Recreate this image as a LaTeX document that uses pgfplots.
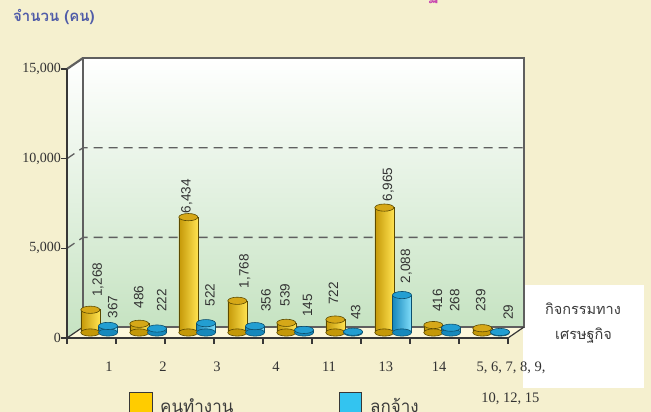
\documentclass[border=0pt]{standalone}
\usepackage{fontspec}
\setmainfont{Liberation Serif}
\newfontfamily\numfont{Liberation Sans}
\newfontfamily\thai[Script=Thai]{Loma}
\usepackage{pgfplots}
\usepackage{pgfplotstable}
\pgfplotsset{compat=1.18}
\definecolor{bg}{RGB}{245,240,207}
\definecolor{floorc}{RGB}{252,247,219}
\definecolor{wallg}{RGB}{198,227,194}
\definecolor{framec}{RGB}{95,95,95}
\definecolor{axisc}{RGB}{55,55,55}
\definecolor{ylwL}{RGB}{196,152,8}
\definecolor{ylwM}{RGB}{252,206,4}
\definecolor{ylwR}{RGB}{255,226,80}
\definecolor{ylwT}{RGB}{214,168,24}
\definecolor{ylwE}{RGB}{92,74,0}
\definecolor{bluL}{RGB}{22,136,188}
\definecolor{bluM}{RGB}{52,194,238}
\definecolor{bluR}{RGB}{130,222,250}
\definecolor{bluT}{RGB}{34,158,210}
\definecolor{bluE}{RGB}{12,80,110}
\definecolor{labc}{RGB}{50,50,50}
\definecolor{titc}{RGB}{80,92,168}
\definecolor{legY}{RGB}{255,204,0}
\definecolor{legB}{RGB}{51,196,240}
\definecolor{boxt}{RGB}{58,58,58}
\definecolor{mag}{RGB}{200,70,175}

\pgfplotstableread{
x v z
0.476 1268 0
1.476 486 0
2.476 6434 0
3.476 1768 0
4.476 539 0
5.476 722 0
6.476 6965 0
7.476 416 0
8.476 239 0
}\yellowdata
\pgfplotstableread{
x v z
0.837 367 0
1.837 222 0
2.837 522 0
3.837 356 0
4.837 145 0
5.837 43 0
6.837 2088 0
7.837 268 0
8.837 29 0
}\bluedata
\pgfplotstableread{
x y v
0.633 1996 1268
1.463 1349 486
2.443 6647 6434
3.627 2465 1768
4.449 1439 539
5.435 1533 722
6.557 7294 6965
7.561 1160 416
8.445 1160 239
}\ylabels
\pgfplotstableread{
x y v
0.935 792 367
1.933 1160 222
2.918 1439 522
4.061 1160 356
4.908 881 145
5.894 697 43
6.922 2744 2088
7.912 1160 268
9.006 697 29
}\blabels

\begin{document}
\begin{tikzpicture}
\useasboundingbox (0pt,0pt) rectangle (651pt,412pt);
\clip (0pt,0pt) rectangle (651pt,412pt);
\fill[bg] (0pt,0pt) rectangle (651pt,412pt);
\fill[white] (523pt,24pt) rectangle (644pt,127pt);
\node[anchor=base, inner sep=0pt, text=mag, font=\thai\bfseries\fontsize{20}{20}\selectfont] at (434pt,413pt) {ฐ};
\begin{axis}[
  at={(67pt,74pt)}, anchor=south west,
  scale only axis, width=441pt, height=269pt,
  xmin=0, xmax=9, ymin=-306, ymax=14694,
  clip=false, axis on top,
  axis x line*=bottom, axis y line*=left,
  axis line style={draw=axisc, line width=2.5pt, -},
  xtick={0,1,2,3,4,5,6,7,8,9}, xticklabels={},
  ytick={-306,4694,9694,14694},
  yticklabels={0,{5,000},{10,000},{15,000}},
  scaled y ticks=false,
  tick align=outside,
  major tick length=6pt,
  tick style={draw=axisc, line width=1.6pt},
  yticklabel style={font=\fontsize{14}{14}\selectfont, text=labc, inner sep=0pt, anchor=east},
]
% walls and floor
\shade[top color=white, bottom color=wallg] (axis cs:0.3265,306) rectangle (axis cs:9.3265,15306);
\shade[top color=white, bottom color=wallg] (axis cs:0,-306) -- (axis cs:0.3265,306) -- (axis cs:0.3265,15306) -- (axis cs:0,14694) -- cycle;
\fill[floorc] (axis cs:0,-306) -- (axis cs:9,-306) -- (axis cs:9.3265,306) -- (axis cs:0.3265,306) -- cycle;
\draw[framec, line width=1.3pt, dash pattern=on 9pt off 6pt] (axis cs:0,4694) -- (axis cs:0.3265,5306) -- (axis cs:9.3265,5306);
\draw[framec, line width=1.3pt, dash pattern=on 9pt off 6pt] (axis cs:0,9694) -- (axis cs:0.3265,10306) -- (axis cs:9.3265,10306);
\draw[framec, line width=2.6pt] (axis cs:0.3265,306) rectangle (axis cs:9.3265,15306);
\draw[framec, line width=2.2pt] (axis cs:0,14694) -- (axis cs:0.3265,15306);
\draw[axisc, line width=1.2pt] (axis cs:0,-306) -- (axis cs:0.3265,306);
\draw[axisc, line width=1.2pt] (axis cs:9,-306) -- (axis cs:9.3265,306);
% yellow series
\addplot[only marks, mark=*, mark size=9.5pt, mark options={yscale=0.38, fill=ylwL, draw=ylwE, line width=0.6pt}] table[x=x, y=z]{\yellowdata};
\pgfplotsinvokeforeach{0,...,8}{
\addplot[ybar, bar width=0.388, bar shift=0pt, draw=ylwE, line width=0.6pt, left color=ylwL, middle color=ylwM, right color=ylwR, restrict expr to domain={\coordindex}{#1:#1}] table[x=x, y=v]{\yellowdata};
}
\addplot[only marks, mark=*, mark size=9.5pt, mark options={yscale=0.38, fill=ylwT, draw=ylwE, line width=0.6pt}] table[x=x, y=v]{\yellowdata};
% blue series
\addplot[only marks, mark=*, mark size=9.5pt, mark options={yscale=0.38, fill=bluL, draw=bluE, line width=0.6pt}] table[x=x, y=z]{\bluedata};
\pgfplotsinvokeforeach{0,...,8}{
\addplot[ybar, bar width=0.388, bar shift=0pt, draw=bluE, line width=0.6pt, left color=bluL, middle color=bluM, right color=bluR, restrict expr to domain={\coordindex}{#1:#1}] table[x=x, y=v]{\bluedata};
}
\addplot[only marks, mark=*, mark size=9.5pt, mark options={yscale=0.38, fill=bluT, draw=bluE, line width=0.6pt}] table[x=x, y=v]{\bluedata};
% value labels
\addplot[only marks, mark=none, point meta=explicit, nodes near coords,
  /pgf/number format/1000 sep={,}, /pgf/number format/assume math mode=true,
  every node near coord/.style={anchor=west, rotate=90, inner sep=0pt, font=\numfont\fontsize{13.5}{13.5}\selectfont, text=labc}]
  table[x=x, y=y, meta=v]{\ylabels};
\addplot[only marks, mark=none, point meta=explicit, nodes near coords,
  /pgf/number format/1000 sep={,}, /pgf/number format/assume math mode=true,
  every node near coord/.style={anchor=west, rotate=90, inner sep=0pt, font=\numfont\fontsize{13.5}{13.5}\selectfont, text=labc}]
  table[x=x, y=y, meta=v]{\blabels};
% category labels
\begin{scope}[every node/.style={font=\fontsize{14.5}{14.5}\selectfont, text=labc, anchor=base, inner sep=0pt}]
\node[yshift=-34pt] at (axis cs:0.857,-306) {1};
\node[yshift=-34pt] at (axis cs:1.959,-306) {2};
\node[yshift=-34pt] at (axis cs:3.061,-306) {3};
\node[yshift=-34pt] at (axis cs:4.265,-306) {4};
\node[yshift=-34pt] at (axis cs:5.347,-306) {11};
\node[yshift=-34pt] at (axis cs:6.510,-306) {13};
\node[yshift=-34pt] at (axis cs:7.592,-306) {14};
\node[yshift=-34pt] at (axis cs:9.061,-306) {5, 6, 7, 8, 9,};
\node[yshift=-65pt] at (axis cs:9.051,-306) {10, 12, 15};
\end{scope}
\end{axis}
% titles and legend
\node[anchor=west, inner sep=0pt, text=titc, font=\thai\bfseries\fontsize{15}{15}\selectfont] at (13pt,395.5pt) {จำนวน (คน)};
\node[anchor=base, inner sep=0pt, text=boxt, font=\thai\fontsize{14.5}{14.5}\selectfont] at (583pt,97pt) {กิจกรรมทาง};
\node[anchor=base, inner sep=0pt, text=boxt, font=\thai\fontsize{14.5}{14.5}\selectfont] at (583.5pt,72pt) {เศรษฐกิจ};
\fill[legY, draw=axisc, line width=0.8pt] (129pt,-3pt) rectangle (152pt,20pt);
\fill[legB, draw=axisc, line width=0.8pt] (339pt,-3pt) rectangle (361pt,20pt);
\node[anchor=base west, inner sep=0pt, text=boxt, font=\thai\fontsize{17}{17}\selectfont] at (160pt,-1pt) {คนทำงาน};
\node[anchor=base west, inner sep=0pt, text=boxt, font=\thai\fontsize{17}{17}\selectfont] at (370pt,-1pt) {ลูกจ้าง};
\end{tikzpicture}
\end{document}
